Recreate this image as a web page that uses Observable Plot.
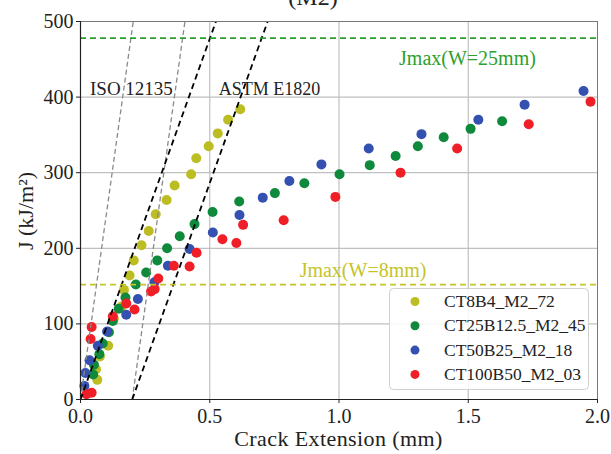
<!DOCTYPE html>
<html><head><meta charset="utf-8">
<script src="https://cdn.jsdelivr.net/npm/d3@7"></script>
<script src="https://cdn.jsdelivr.net/npm/@observablehq/plot@0.6"></script>
<style>
body{margin:0;background:#fff;}
#chart{position:relative;width:611px;height:454px;overflow:hidden;}
#chart svg, #chart svg text{font-family:"Liberation Serif","DejaVu Serif","Times New Roman",serif !important;}
</style>
</head><body><div id="chart"></div>
<script>
// ---- data ----
const seriesNames = ["CT8B4_M2_72", "CT25B12.5_M2_45", "CT50B25_M2_18", "CT100B50_M2_03"];
const seriesColors = ["#bcbd22", "#0f8a3c", "#3450b0", "#f01e26"];

const ct8x = [0.060,0.065,0.075,0.107,0.129,0.159,0.168,0.190,0.206,0.236,0.264,0.291,0.333,0.364,0.428,0.448,0.496,0.531,0.571,0.618];
const ct8y = [40,26,57,71,107,123,145,164,184,204,223,245,264,283,298,319,335,352,370,384];

const ct25x = [0.049,0.052,0.073,0.086,0.110,0.125,0.148,0.174,0.214,0.254,0.297,0.335,0.384,0.441,0.511,0.614,0.752,0.866,1.002,1.119,1.219,1.305,1.405,1.509,1.631];
const ct25y = [33,46,60,74,89,104,120,135,152,168,184,200,216,232,248,262,273,286,298,310,322,335,347,358,368];

const ct50x = [0.015,0.019,0.035,0.067,0.103,0.177,0.222,0.286,0.338,0.422,0.512,0.615,0.705,0.808,0.932,1.115,1.319,1.539,1.718,1.946];
const ct50y = [18,35,52,71,90,112,133,155,177,199,221,244,267,289,311,332,351,370,390,408];

const ct100x = [0.023,0.043,0.039,0.043,0.125,0.177,0.209,0.273,0.287,0.301,0.361,0.422,0.449,0.549,0.603,0.629,0.786,0.986,1.238,1.457,1.734,1.973];
const ct100y = [7,9,80,96,110,127,119,143,146,160,177,176,194,212,207,231,237,268,300,332,364,394];

const xTicks = [0, 0.5, 1.0, 1.5, 2.0];
const yTicks = [0, 100, 200, 300, 400, 500];

const jmaxValues = [478, 152];
const jmaxLabels = ["Jmax(W=25mm)", "Jmax(W=8mm)"];
const jmaxColors = ["#2ca02c", "#c4c42a"];
const jmaxLabelX = [1.497, 1.093];
const jmaxLabelY = [451, 171];

// blunting / offset lines (start and end points)
const isoX1 = [0, 0.2], isoY1 = [0, 0], isoX2 = [0.204, 0.404], isoY2 = [500, 500];
const astmX1 = [0, 0.2], astmY1 = [0, 0], astmX2 = [0.524, 0.724], astmY2 = [500, 500];
const standardLabels = ["ISO 12135", "ASTM E1820"];
const standardLabelX = [0.197, 0.731];
const standardLabelY = [411, 411];
const standardLabelSize = [19, 18];

const titleText = "(M2)";
const xLabel = "Crack Extension (mm)";
const yLabel = "J (kJ/m²)";

// ---- build tables ----
const seriesX = [ct8x, ct25x, ct50x, ct100x];
const seriesY = [ct8y, ct25y, ct50y, ct100y];
const points = [];
seriesNames.forEach((name, i) => seriesX[i].forEach((x, j) => points.push({x, y: seriesY[i][j], s: name})));
const iso = isoX1.map((d, i) => ({x1: d, y1: isoY1[i], x2: isoX2[i], y2: isoY2[i]}));
const astm = astmX1.map((d, i) => ({x1: d, y1: astmY1[i], x2: astmX2[i], y2: astmY2[i]}));

const W = 611, H = 454, mL = 80, mR = 14, mT = 21, mB = 55;

const plot = Plot.plot({
  width: W, height: H,
  marginLeft: mL, marginRight: mR, marginTop: mT, marginBottom: mB,
  x: {domain: [0, 2]},
  y: {domain: [0, 500]},
  color: {domain: seriesNames, range: seriesColors},
  style: {fontSize: "20px", color: "#222", background: "white"},
  marks: [
    Plot.gridX(xTicks.slice(1, -1), {stroke: "#c0c0c0", strokeOpacity: 1, strokeWidth: 1.2}),
    Plot.gridY(yTicks.slice(1, -1), {stroke: "#c0c0c0", strokeOpacity: 1, strokeWidth: 1.2}),
    Plot.dot(points, {x: "x", y: "y", fill: "s", r: 5}),
    Plot.link(iso, {x1: "x1", y1: "y1", x2: "x2", y2: "y2", stroke: "#8a8a8a", strokeWidth: 1.3, strokeDasharray: "5,3", clip: true}),
    Plot.link(astm, {x1: "x1", y1: "y1", x2: "x2", y2: "y2", stroke: "#000", strokeWidth: 1.8, strokeDasharray: "6,4", clip: true}),
    Plot.ruleY([jmaxValues[0]], {stroke: jmaxColors[0], strokeWidth: 1.8, strokeDasharray: "6,4"}),
    Plot.ruleY([jmaxValues[1]], {stroke: jmaxColors[1], strokeWidth: 1.8, strokeDasharray: "6,4"}),
    Plot.text([jmaxLabels[0]], {x: jmaxLabelX[0], y: jmaxLabelY[0], fill: jmaxColors[0], fontSize: 20, textAnchor: "middle"}),
    Plot.text([jmaxLabels[1]], {x: jmaxLabelX[1], y: jmaxLabelY[1], fill: jmaxColors[1], fontSize: 20, textAnchor: "middle"}),
    Plot.text([standardLabels[0]], {x: standardLabelX[0], y: standardLabelY[0], fill: "#222", fontSize: standardLabelSize[0], textAnchor: "middle"}),
    Plot.text([standardLabels[1]], {x: standardLabelX[1], y: standardLabelY[1], fill: "#222", fontSize: standardLabelSize[1], textAnchor: "middle"}),
    Plot.frame({stroke: "#777", strokeWidth: 1}),
    Plot.ruleX([0], {stroke: "#222", strokeWidth: 1.2}),
    Plot.ruleY([0], {stroke: "#222", strokeWidth: 1.2}),
    Plot.axisX(xTicks, {tickFormat: d => d.toFixed(1), tickSize: 4, tickPadding: 5, fontSize: 20, label: null}),
    Plot.axisY(yTicks, {tickFormat: d => String(d), tickSize: 4, tickPadding: 3, fontSize: 20, label: null})
  ]
});
document.getElementById("chart").appendChild(plot);

// ---- title, axis labels, legend (layout drawn on the Plot SVG) ----
const svg = d3.select(plot);
svg.append("text").attr("x", 313).attr("y", 5).attr("text-anchor", "middle")
  .style("font-size", "24px").attr("fill", "#222").text(titleText);
svg.append("text").attr("x", (mL + W - mR) / 2).attr("y", 446).attr("text-anchor", "middle")
  .style("font-size", "22px").style("letter-spacing", "0.4px").attr("fill", "#222").text(xLabel);
svg.append("text").attr("transform", "translate(33,211) rotate(-90)").attr("text-anchor", "middle")
  .style("font-size", "22px").attr("fill", "#222").text(yLabel);

const lg = svg.append("g").attr("text-anchor", "start");
lg.append("rect").attr("x", 389.5).attr("y", 288.5).attr("width", 199).attr("height", 101)
  .attr("rx", 4).attr("fill", "white").attr("fill-opacity", 0.85).attr("stroke", "#d0d0d0");
seriesNames.forEach((name, i) => {
  const cy = 301.5 + i * 24.3;
  lg.append("circle").attr("cx", 415).attr("cy", cy).attr("r", 4.5).attr("fill", seriesColors[i]);
  lg.append("text").attr("x", 444).attr("y", cy + 5.5).attr("text-anchor", "start")
    .style("font-size", "17.5px").attr("fill", "#222").text(name);
});
</script>
</body></html>
